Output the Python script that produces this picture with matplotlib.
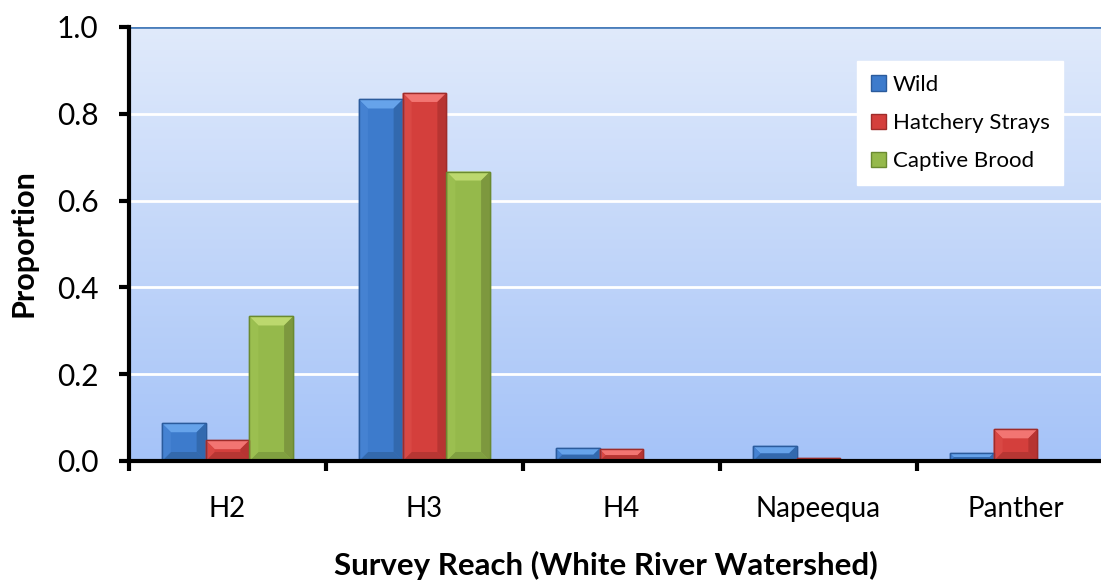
import numpy as np
import matplotlib
matplotlib.use("Agg")
import matplotlib.pyplot as plt
from matplotlib.colors import LinearSegmentedColormap
from matplotlib.patches import Polygon
from matplotlib.transforms import blended_transform_factory

categories = ["H2", "H3", "H4", "Napeequa", "Panther"]
wild = [0.087, 0.833, 0.029, 0.035, 0.018]
hatchery = [0.048, 0.848, 0.027, 0.006, 0.073]
captive = [0.333, 0.667, 0.0, 0.0, 0.0]
series_names = ["Wild", "Hatchery Strays", "Captive Brood"]
yticks = [0.0, 0.2, 0.4, 0.6, 0.8, 1.0]

plt.rcParams['font.family'] = ['Lato', 'DejaVu Sans']

fig = plt.figure(figsize=(11.01, 5.85), dpi=100)
W, H = 1101, 585
left, right, top, bottom = 129, 1114, 27, 461
ax = fig.add_axes([left / W, 1 - bottom / H, (right - left) / W, (bottom - top) / H])

# gradient background
cmap = LinearSegmentedColormap.from_list("bg", ["#a5c3f8", "#e0eafb"])
grad = np.linspace(0, 1, 256).reshape(-1, 1)
ax.imshow(grad, extent=[-0.5, 4.5, 0, 1], origin="lower", aspect="auto",
          cmap=cmap, zorder=0)

x = np.arange(len(categories))
bw = 0.222
fills = ["#3d7bcc", "#d43f3c", "#95b94b"]
edges = ["#2b5b9c", "#9f2c2a", "#6a8a30"]
tops = ["#66a3ea", "#f27572", "#bcd86e"]
lefts = ["#4582d2", "#d94844", "#9bbf50"]
rights = ["#3269ae", "#b73432", "#7d983e"]
bots = ["#3369ad", "#b73633", "#80a040"]
data = [wild, hatchery, captive]

ax.set_xlim(-0.5, 4.5)
ax.set_ylim(0, 1.0)

px_x = 5.0 / (right - left)   # data units per pixel, x
px_y = 1.0 / (bottom - top)   # data units per pixel, y
bev = 9  # bevel in pixels

for i, (vals, nm) in enumerate(zip(data, series_names)):
    bars = ax.bar(x + (i - 1) * bw, vals, width=bw, color=fills[i], edgecolor=edges[i],
                  linewidth=1.0, label=nm, zorder=3)
    for r in bars:
        x0, w, h = r.get_x(), r.get_width(), r.get_height()
        if h <= 0:
            continue
        hp = h / px_y
        wp = w / px_x
        b = min(bev, hp / 2, wp / 2)
        bx, by = b * px_x, b * px_y
        x1 = x0 + w
        ax.add_patch(Polygon([(x0, h), (x1, h), (x1 - bx, h - by), (x0 + bx, h - by)],
                             closed=True, facecolor=tops[i], edgecolor="none", zorder=4))
        ax.add_patch(Polygon([(x0, 0), (x1, 0), (x1 - bx, by), (x0 + bx, by)],
                             closed=True, facecolor=bots[i], edgecolor="none", zorder=4))
        ax.add_patch(Polygon([(x0, 0), (x0 + bx, by), (x0 + bx, h - by), (x0, h)],
                             closed=True, facecolor=lefts[i], edgecolor="none", zorder=4))
        ax.add_patch(Polygon([(x1, 0), (x1 - bx, by), (x1 - bx, h - by), (x1, h)],
                             closed=True, facecolor=rights[i], edgecolor="none", zorder=4))
        ax.add_patch(plt.Rectangle((x0, 0), w, h, facecolor="none", edgecolor=edges[i],
                                   linewidth=1.0, zorder=4.5))

ax.set_yticks(yticks)
ax.set_yticklabels([f"{t:.1f}" for t in yticks], fontsize=21.5)
ax.set_xticks(np.arange(-0.5, 4.6, 1.0))
ax.set_xticklabels([])
ax.tick_params(axis="x", which="major", length=7, width=3, direction="out")
ax.tick_params(axis="y", length=7, width=3, direction="out", pad=15)

trans = blended_transform_factory(ax.transData, fig.transFigure)
for xi, c in zip(x, categories):
    ax.text(xi, 1 - 517 / H, c, transform=trans, ha="center", va="baseline",
            fontsize=20, clip_on=False)

for yv in yticks[1:-1]:
    ax.axhline(yv, color="white", lw=2, zorder=1)

for s in ["top", "right"]:
    ax.spines[s].set_visible(False)
ax.axhline(1.0, color="#4a7ebb", lw=2, zorder=2)
ax.spines["left"].set_linewidth(3)
ax.spines["bottom"].set_linewidth(3)
ax.spines["left"].set_zorder(6)
ax.spines["bottom"].set_zorder(6)

fig.text(24 / W, 1 - 243 / H, "Proportion", rotation=90, fontsize=22,
         fontweight="bold", ha="center", va="center")
fig.text(606 / W, 1 - 575 / H, "Survey Reach (White River Watershed)",
         fontsize=22.5, fontweight="bold", ha="center", va="baseline")

leg = ax.legend(loc="upper left", bbox_to_anchor=((857 - left) / (right - left), 1 - (61 - top) / (bottom - top)),
                fontsize=16, frameon=True, fancybox=False, borderpad=0.62,
                handlelength=0.68, handleheight=0.68, handletextpad=0.3,
                labelspacing=0.82, borderaxespad=0)
leg.get_frame().set_facecolor("white")
leg.get_frame().set_edgecolor("white")
leg.get_frame().set_alpha(1)
leg.set_zorder(10)

fig.savefig("out.png", dpi=100)
